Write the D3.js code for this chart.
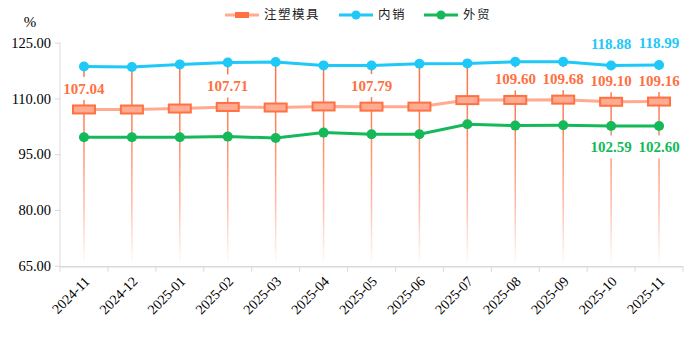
<!DOCTYPE html>
<html><head><meta charset="utf-8">
<script src="https://cdn.jsdelivr.net/npm/d3@7"></script>
<style>body{margin:0;background:#fff}svg{display:block}</style>
</head><body><svg id="c" width="699" height="337"></svg>
<script>
const categories=["2024-11","2024-12","2025-01","2025-02","2025-03","2025-04","2025-05","2025-06","2025-07","2025-08","2025-09","2025-10","2025-11"];
const moldValues=[107.04,107.02,107.29,107.71,107.56,107.85,107.79,107.80,109.55,109.60,109.68,109.10,109.16];
const domesticValues=[118.62,118.46,119.16,119.69,119.80,118.89,118.87,119.35,119.43,119.88,119.87,118.88,118.99];
const exportValues=[99.54,99.54,99.55,99.73,99.36,100.81,100.35,100.35,103.04,102.69,102.77,102.59,102.60];
const yTicks=[65,80,95,110,125];
const moldLabelIdx=[0,3,6,9,10,11,12];
const domesticLabelIdx=[11,12];
const exportLabelIdx=[11,12];
const seriesNames=["注塑模具","内销","外贸"];

const C_OR="#ff7043",C_SAL="#ffab91",C_BLUE="#1ec8f7",C_GREEN="#15b95a";
const svg=d3.select("#c");
const M={l:60,r:683,t:42.7,b:265.7};
const x=d3.scaleBand().domain(categories).range([M.l,M.r]);
const y=d3.scaleLinear().domain([65,125]).range([M.b,M.t]);
const cx=d=>x(d)+x.bandwidth()/2;
const serif="'Liberation Serif','Times New Roman',serif";

// gradient for vertical drop lines
const defs=svg.append("defs");
const g=defs.append("linearGradient").attr("id","vg").attr("gradientUnits","userSpaceOnUse")
 .attr("x1",0).attr("x2",0).attr("y1",60).attr("y2",M.b);
g.append("stop").attr("offset",0).attr("stop-color",C_OR).attr("stop-opacity",1);
g.append("stop").attr("offset",0.35).attr("stop-color",C_OR).attr("stop-opacity",0.85);
g.append("stop").attr("offset",0.7).attr("stop-color",C_SAL).attr("stop-opacity",0.8);
g.append("stop").attr("offset",1).attr("stop-color",C_SAL).attr("stop-opacity",0);

// axes
const yAxis=d3.axisLeft(y).tickValues(yTicks).tickFormat(d3.format(".2f")).tickSize(5).tickPadding(4);
const ya=svg.append("g").attr("transform",`translate(${M.l},0)`).call(yAxis);
ya.select(".domain").attr("stroke","#d9d9d9").attr("d",`M0,${M.t}V${M.b+1}`);
ya.selectAll(".tick line").attr("stroke","#d9d9d9");
ya.selectAll("text").attr("font-family",serif).attr("font-size",14.5).attr("fill","#000");

const xa=svg.append("g").attr("transform",`translate(0,${M.b+1})`);
xa.append("line").attr("x1",M.l).attr("x2",M.r).attr("stroke","#d9d9d9").attr("stroke-width",1.5);
const bounds=categories.map(c=>x(c)).concat([M.r]);
xa.selectAll("line.t").data(bounds).join("line").attr("class","t").attr("x1",d=>d).attr("x2",d=>d).attr("y1",0).attr("y2",5).attr("stroke","#d9d9d9");
xa.selectAll("text").data(categories).join("text")
 .attr("font-family",serif).attr("font-size",14).attr("fill","#000").attr("text-anchor","end")
 .attr("transform",d=>`translate(${cx(d)+3},${12}) rotate(-45)`).attr("dy","0.35em").text(d=>d);

svg.append("text").attr("x",30).attr("y",27).attr("text-anchor","middle").attr("font-family",serif).attr("font-size",15).text("%");

// vertical drop lines
svg.append("g").selectAll("line").data(categories).join("line")
 .attr("x1",d=>cx(d)).attr("x2",d=>cx(d)).attr("y1",(d,i)=>y(domesticValues[i])).attr("y2",M.b-2)
 .attr("stroke","url(#vg)").attr("stroke-width",1.5);

const line=vals=>d3.line().x((d,i)=>cx(categories[i])).y(d=>y(d))(vals);

// label backgrounds (break drop lines)
function labels(idx,vals,color,dy){
  const gg=svg.append("g");
  idx.forEach(i=>{
    const X=cx(categories[i]),Y=y(vals[i])+dy;
    gg.append("rect").attr("x",X-22).attr("y",Y-11.5).attr("width",44).attr("height",23).attr("fill","#fff");
    gg.append("text").attr("x",X).attr("y",Y).attr("dy","0.35em").attr("text-anchor","middle")
      .attr("font-family",serif).attr("font-size",15).attr("font-weight","bold").attr("fill",color)
      .text(vals[i].toFixed(2));
  });
}

// series lines
svg.append("path").attr("d",line(moldValues)).attr("fill","none").attr("stroke",C_SAL).attr("stroke-width",3);
svg.append("path").attr("d",line(domesticValues)).attr("fill","none").attr("stroke",C_BLUE).attr("stroke-width",3);
svg.append("path").attr("d",line(exportValues)).attr("fill","none").attr("stroke",C_GREEN).attr("stroke-width",3);

labels(moldLabelIdx,moldValues,C_OR,-21);
labels(domesticLabelIdx,domesticValues,C_BLUE,-22);
labels(exportLabelIdx,exportValues,C_GREEN,21);

// markers
svg.append("g").selectAll("rect").data(moldValues).join("rect")
 .attr("x",(d,i)=>cx(categories[i])-11).attr("y",d=>y(d)-4).attr("width",22).attr("height",8)
 .attr("fill",C_SAL).attr("stroke",C_OR).attr("stroke-width",2);
svg.append("g").selectAll("circle").data(domesticValues).join("circle")
 .attr("cx",(d,i)=>cx(categories[i])).attr("cy",d=>y(d)).attr("r",5).attr("fill",C_BLUE);
svg.append("g").selectAll("circle").data(exportValues).join("circle")
 .attr("cx",(d,i)=>cx(categories[i])).attr("cy",d=>y(d)).attr("r",5).attr("fill",C_GREEN);

// legend
const leg=[{n:seriesNames[0],x:225,c:C_SAL,m:"rect"},{n:seriesNames[1],x:339,c:C_BLUE,m:"circle"},{n:seriesNames[2],x:424,c:C_GREEN,m:"circle"}];
const lg=svg.append("g");
leg.forEach(o=>{
  lg.append("line").attr("x1",o.x).attr("x2",o.x+34).attr("y1",15).attr("y2",15).attr("stroke",o.c).attr("stroke-width",3);
  if(o.m==="rect") lg.append("rect").attr("x",o.x+10).attr("y",12).attr("width",14).attr("height",6).attr("fill",C_OR);
  else lg.append("circle").attr("cx",o.x+17).attr("cy",15).attr("r",4.5).attr("fill",o.c);
  lg.append("text").attr("x",o.x+39).attr("y",15).attr("dy","0.35em").attr("font-family","'Noto Sans CJK SC',sans-serif")
    .attr("font-size",12.5).attr("letter-spacing",1.5).attr("fill","#222").text(o.n);
});
</script></body></html>
